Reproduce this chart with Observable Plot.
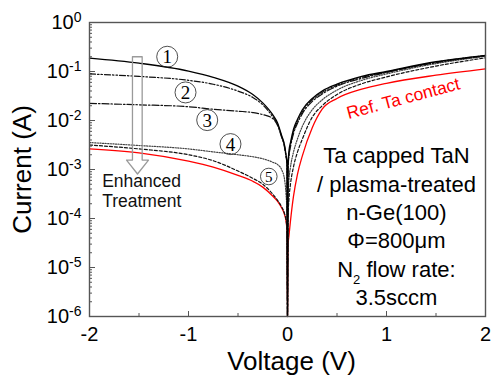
<!DOCTYPE html>
<html><head><meta charset="utf-8">
<script src="https://cdn.jsdelivr.net/npm/d3@7"></script>
<script src="https://cdn.jsdelivr.net/npm/@observablehq/plot@0.6"></script>
<style>
body{margin:0;background:#fff;}
#chart{width:491px;height:385px;}
</style></head><body><div id="chart"></div>
<script>
// ---- data ----
const voltage = [-2,-1.5,-1,-0.75,-0.5,-0.35,-0.25,-0.15,-0.1,-0.06,-0.03,-0.015,-0.005,0,
                 0.005,0.015,0.03,0.06,0.1,0.15,0.25,0.35,0.5,0.75,1,1.5,2];
const current1 = [0.188,0.148,0.102,0.0759,0.0501,0.0339,0.0229,0.0132,0.0089,0.0050,0.00316,0.0020,0.00141,1e-6,
                  0.00126,0.0024,0.00355,0.0066,0.0105,0.0166,0.0282,0.0398,0.055,0.0794,0.1,0.158,0.214];
const current2 = [0.0891,0.0794,0.0661,0.055,0.0398,0.0295,0.0209,0.012,0.0083,0.0048,0.0030,0.0019,0.00132,1e-6,
                  0.00112,0.00209,0.00316,0.00589,0.00955,0.0151,0.0263,0.0372,0.0525,0.0759,0.0977,0.155,0.211];
const current3 = [0.0224,0.0209,0.0191,0.017,0.0155,0.0145,0.0132,0.011,0.0079,0.00457,0.00282,0.00182,0.00126,1e-6,
                  0.001,0.0019,0.00288,0.00537,0.0087,0.0138,0.0245,0.0347,0.0501,0.0724,0.0955,0.151,0.209];
const current4 = [0.00355,0.00309,0.00263,0.00229,0.002,0.00182,0.00166,0.00141,0.00126,0.001,0.00063,0.000316,0.000126,1e-6,
                  0.00025,0.00063,0.00112,0.00224,0.00417,0.0076,0.0166,0.0263,0.0417,0.0661,0.0891,0.145,0.204];
const current5 = [0.00316,0.00263,0.002,0.00151,0.00093,0.00066,0.0005,0.000316,0.000234,0.000174,0.000126,0.000093,0.00006,1e-6,
                  0.0001,0.00025,0.0005,0.00112,0.00224,0.00417,0.0117,0.02,0.0339,0.0562,0.0776,0.129,0.19];
const currentRef = [0.00263,0.00219,0.00148,0.00112,0.00076,0.000575,0.000437,0.000288,0.000224,0.000166,0.00012,0.000089,0.000056,1e-6,
                    0.000028,0.000045,0.000089,0.00028,0.00079,0.0019,0.0071,0.017,0.0282,0.0437,0.0575,0.0841,0.1135];

const xMajorTicks = [-2,-1,0,1,2];
const xMinorTicks = [-1.5,-0.5,0.5,1.5];
const yMajorTicks = [1e-6,1e-5,1e-4,1e-3,1e-2,1e-1,1];

// annotations (data coordinates)
const labelNums = [1,2,3,4,5];
const labelV = [-1.215,-1.03,-0.811,-0.576,-0.189];
const labelI = [0.2,0.0374,0.0102,0.0033,0.00072];
const arrowV = [-1.566,-1.468,-1.468,-1.404,-1.515,-1.626,-1.566,-1.566];
const arrowI = [0.2,0.2,0.00156,0.00156,0.00081,0.00156,0.00156,0.2];
const infoText = "Ta capped TaN\n/ plasma-treated\nn-Ge(100)\nΦ=800μm\nN2 flow rate:\n3.5sccm";
const infoPos = {V: 1.10, I: 0.00343};
const treatText = "Enhanced\nTreatment";
const treatPos = {V: -1.872, I: 0.00084};
const refText = "Ref. Ta contact";
const refPos = {V: 1.17, I: 0.028};

// ---- build tables ----
const series = [
  {key: "ref", values: currentRef},
  {key: "s5", values: current5},
  {key: "s4", values: current4},
  {key: "s3", values: current3},
  {key: "s2", values: current2},
  {key: "s1", values: current1}
];
const rows = series.flatMap(s => voltage.map((v, i) => ({key: s.key, V: v, I: s.values[i]})));
const labels = labelNums.map((n, i) => ({n, V: labelV[i], I: labelI[i]}));
const arrow = arrowV.map((v, i) => ({V: v, I: arrowI[i]}));

const styles = {
  ref: {stroke: "#ff0000", strokeWidth: 1.3},
  s5: {stroke: "#111", strokeWidth: 1.2, strokeDasharray: "3,2"},
  s4: {stroke: "#444", strokeWidth: 1.2, strokeDasharray: "1.2,1.4"},
  s3: {stroke: "#111", strokeWidth: 1.2, strokeDasharray: "7,2,1.5,2"},
  s2: {stroke: "#111", strokeWidth: 1.2, strokeDasharray: "6,2,1.5,2,1.5,2"},
  s1: {stroke: "#000", strokeWidth: 1.3}
};

const axisColor = "#555";
const chart = Plot.plot({
  width: 491, height: 385,
  marginLeft: 89, marginRight: 6, marginTop: 22, marginBottom: 69,
  style: {fontFamily: "'Liberation Sans', Arial, sans-serif", background: "white", color: "black"},
  x: {domain: [-2, 2]},
  y: {type: "log", domain: [1e-6, 1]},
  marks: [
    // tick marks (inward)
    Plot.axisX({ticks: xMajorTicks, tickSize: -5, stroke: axisColor, tickFormat: () => "", label: null}),
    Plot.axisX({ticks: xMinorTicks, tickSize: -3, stroke: axisColor, tickFormat: () => "", label: null}),
    Plot.axisY({ticks: yMajorTicks, tickSize: -6, stroke: axisColor, tickFormat: () => "", label: null}),
    Plot.axisY({ticks: 10, tickSize: -3, stroke: axisColor, tickFormat: () => "", label: null}),
    // tick labels
    Plot.axisX({ticks: xMajorTicks, tickSize: 0, tickPadding: 10, fontSize: 20, tickFormat: d => String(d), label: null}),
    Plot.axisY({ticks: yMajorTicks, tickSize: 0, tickPadding: 8, fontSize: 20,
                tickFormat: d => "10^" + Math.round(Math.log10(d)), label: null}),
    // curves
    ...series.map(s => Plot.line(rows.filter(r => r.key === s.key),
        {x: "V", y: "I", curve: "monotone-x", ...styles[s.key]})),
    // arrow annotation
    Plot.line(arrow, {x: "V", y: "I", stroke: "#9a9a9a", strokeWidth: 1.3}),
    // circled labels
    Plot.dot(labels.filter(d => d.n < 5), {x: "V", y: "I", r: 10.5, stroke: "#222", strokeWidth: 0.8}),
    Plot.dot(labels.filter(d => d.n === 5), {x: "V", y: "I", r: 8.3, stroke: "#222", strokeWidth: 0.8}),
    Plot.text(labels.filter(d => d.n < 5), {x: "V", y: "I", text: d => String(d.n), fontFamily: "'Liberation Serif', serif", fontSize: 19, dy: 0.5}),
    Plot.text(labels.filter(d => d.n === 5), {x: "V", y: "I", text: d => String(d.n), fontFamily: "'Liberation Serif', serif", fontSize: 15, dy: 0.5}),
    // texts
    Plot.text([treatText], {x: () => treatPos.V, y: () => treatPos.I, text: d => d, textAnchor: "start", lineAnchor: "top", fontSize: 17.5, lineHeight: 1.143, fill: "#111"}),
    Plot.text([infoText], {x: () => infoPos.V, y: () => infoPos.I, text: d => d, textAnchor: "middle", lineAnchor: "top", fontSize: 22, lineHeight: 1.287, fill: "#000"}),
    Plot.text([refText], {x: () => refPos.V, y: () => refPos.I, text: d => d, rotate: -15, fontSize: 17.5, fill: "#ff0000"}),
    // axis titles
    Plot.text(["Current (A)"], {frameAnchor: "left", text: d => d, rotate: -90, dx: -67, fontSize: 26, textAnchor: "middle", lineAnchor: "middle"}),
    Plot.text(["Voltage (V)"], {frameAnchor: "bottom", text: d => d, dx: 4, dy: 45, fontSize: 26, textAnchor: "middle", lineAnchor: "middle"}),
    Plot.frame({stroke: axisColor, strokeWidth: 1.4})
  ]
});
document.getElementById("chart").appendChild(chart);

// ---- superscripts / subscripts as real text ----
const NS = "http://www.w3.org/2000/svg";
d3.select(chart).selectAll("text").each(function () {
  const t = this.textContent;
  if (/^10\^/.test(t) && this.children.length === 0) {
    this.textContent = "10";
    const sup = document.createElementNS(NS, "tspan");
    sup.setAttribute("dy", "-0.5em");
    sup.setAttribute("font-size", "14");
    sup.textContent = t.slice(3);
    this.appendChild(sup);
  }
});
d3.select(chart).selectAll("tspan").each(function () {
  if (this.textContent === "N2 flow rate:") {
    this.textContent = "N";
    const sub = document.createElementNS(NS, "tspan");
    sub.setAttribute("dy", "7");
    sub.setAttribute("font-size", "13");
    sub.textContent = "2";
    const rest = document.createElementNS(NS, "tspan");
    rest.setAttribute("dy", "-7");
    rest.textContent = " flow rate:";
    this.appendChild(sub);
    this.appendChild(rest);
  }
});
</script></body></html>
